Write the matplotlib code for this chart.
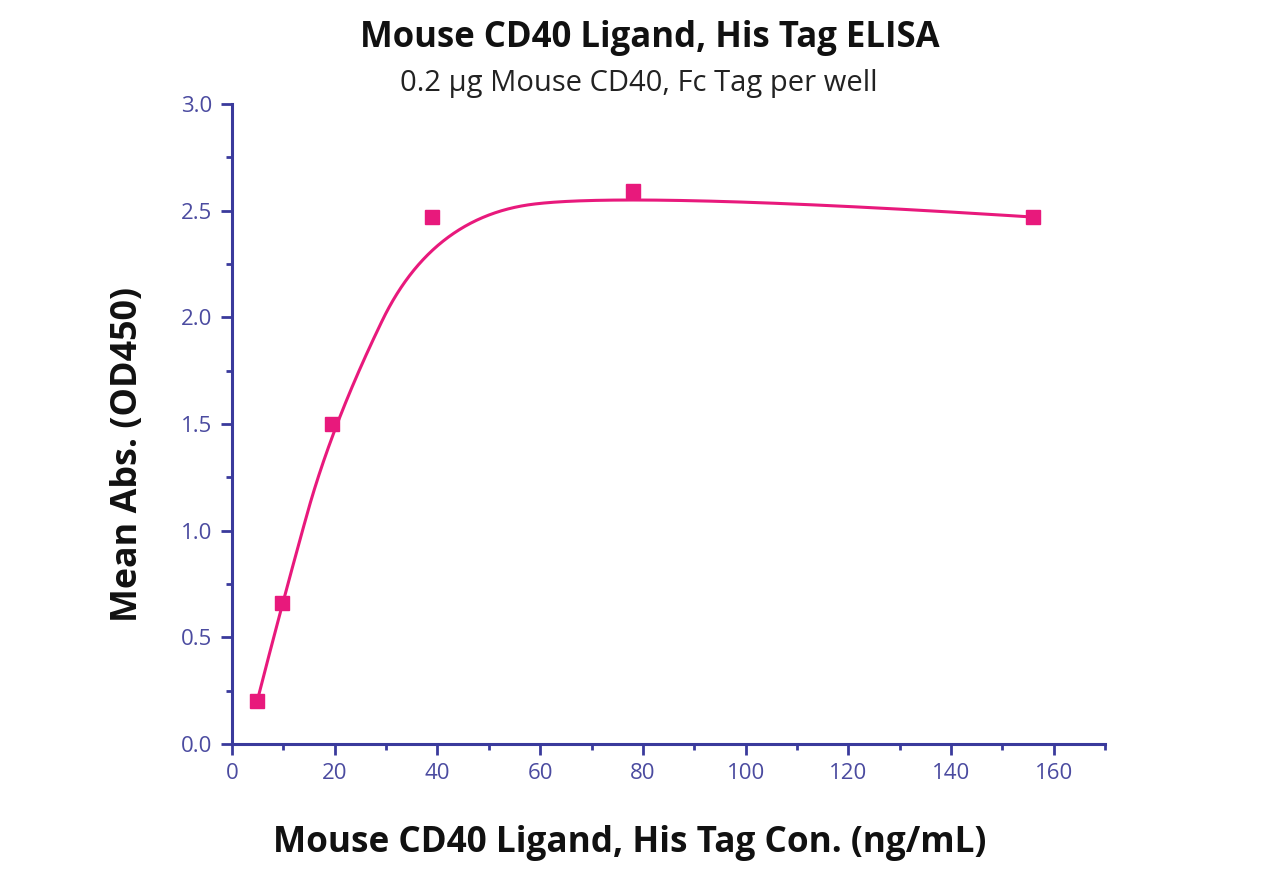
import numpy as np
import matplotlib
matplotlib.use("Agg")
import matplotlib.pyplot as plt
from matplotlib.ticker import MultipleLocator, FormatStrFormatter

# Data
conc = [4.88, 9.77, 19.5, 39.0, 78.0, 156.0]
absorb = [0.20, 0.66, 1.50, 2.47, 2.59, 2.47]

title = "Mouse CD40 Ligand, His Tag ELISA"
subtitle = "0.2 \u00b5g Mouse CD40, Fc Tag per well"
xlabel = "Mouse CD40 Ligand, His Tag Con. (ng/mL)"
ylabel = "Mean Abs. (OD450)"

x = np.array(conc)
y = np.array(absorb)

XMAX, YMAX = 170, 3.0

# Smooth connecting line: clamped quadratic B-spline with the data points as control points
def bspline_basis(i, p, u, knots):
    if p == 0:
        last = (knots[i + 1] == knots[-1]) & (u == knots[-1])
        return np.where(((knots[i] <= u) & (u < knots[i + 1])) | last, 1.0, 0.0)
    out = np.zeros_like(u)
    d1 = knots[i + p] - knots[i]
    d2 = knots[i + p + 1] - knots[i + 1]
    if d1 > 0:
        out += (u - knots[i]) / d1 * bspline_basis(i, p - 1, u, knots)
    if d2 > 0:
        out += (knots[i + p + 1] - u) / d2 * bspline_basis(i + 1, p - 1, u, knots)
    return out

deg = 2
npts = len(x)
inner = np.linspace(0, 1, npts - deg + 1)
knots = np.concatenate([np.zeros(deg), inner, np.ones(deg)])
u = np.linspace(0, 1, 800)
B = np.array([bspline_basis(i, deg, u, knots) for i in range(npts)])
xf = B.T @ x
yf = B.T @ y

plt.rcParams['font.family'] = ['Open Sans', 'DejaVu Sans']
axcol = '#3a3a9c'
pink = '#e8197c'

fig = plt.figure(figsize=(12.8, 8.92), dpi=100)
ax = fig.add_axes([0.1813, 0.1659, 0.8633 - 0.1813, 0.8834 - 0.1659])
ax.plot(xf, yf, color=pink, lw=2.2)
ax.plot(x, y, 's', color=pink, ms=10, mec=pink)

ax.set_xlim(0, XMAX)
ax.set_ylim(0, YMAX)
ax.xaxis.set_major_locator(MultipleLocator(20))
ax.xaxis.set_minor_locator(MultipleLocator(10))
ax.yaxis.set_major_locator(MultipleLocator(0.5))
ax.yaxis.set_minor_locator(MultipleLocator(0.25))
ax.yaxis.set_major_formatter(FormatStrFormatter('%.1f'))
for s in ['top', 'right']:
    ax.spines[s].set_visible(False)
for s in ['left', 'bottom']:
    ax.spines[s].set_color(axcol)
    ax.spines[s].set_linewidth(2.2)
ax.tick_params(which='major', direction='out', length=8, width=2, color=axcol,
               labelcolor='#4b4ba0', labelsize=16, pad=6)
ax.tick_params(which='minor', direction='out', length=4, width=2, color=axcol)

fig.text(128 / 1280, 1 - 455 / 892, ylabel, rotation=90, ha='center', va='center',
         fontsize=25.8, fontweight='bold', color='#111111')
fig.text(630 / 1280, 1 - 843 / 892, xlabel, ha='center', va='center',
         fontsize=25.3, fontweight='bold', color='#111111')
fig.text(650 / 1280, 1 - 38 / 892, title, ha='center', va='center',
         fontsize=25, fontweight='bold', color='#111111')
fig.text(639 / 1280, 1 - 83 / 892, subtitle, ha='center', va='center',
         fontsize=21, color='#222222')

fig.savefig("out.png", dpi=100)
